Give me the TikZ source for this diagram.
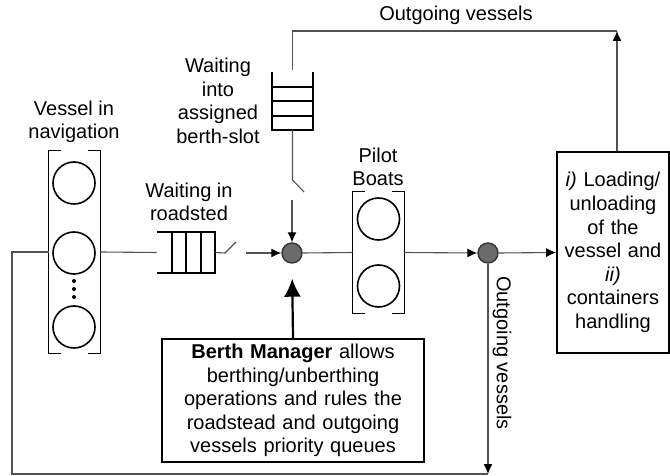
\documentclass[tikz,border=0pt]{standalone}
\usepackage{fontspec}
\setmainfont{Liberation Sans}
\usetikzlibrary{arrows.meta,calc}
\begin{document}
\begin{tikzpicture}[x=0.5pt,y=-0.5pt,
  every node/.style={font=\fontsize{10pt}{11.8pt}\selectfont, inner sep=0pt, align=center},
  conn/.style={draw=black!68, line width=0.55pt},
  arr/.style={conn, -{Latex[length=5pt,width=4.5pt,color=black]}},
  bigarr/.style={draw=black, line width=1.1pt, -{Latex[length=9pt,width=8.5pt]}},
  qline/.style={draw=black, line width=1pt},
  boat/.style={circle, draw=black, line width=0.8pt, minimum size=21pt},
  junction/.style={circle, draw=black!80, fill=black!58, line width=0.7pt, minimum size=10pt},
  frame/.style={draw=black, line width=0.8pt},
  holder/.style={rectangle, minimum width=25.5pt}
]
\useasboundingbox (0,0) rectangle (670,476);

% ---------- vessel in navigation ----------
\node (vlab) at (74,122) {Vessel in\\navigation};
\node[holder, minimum height=101pt] (vbox) at (74.5,252) {};
\draw[frame] ($(vbox.north west)+(12,0)$) -- (vbox.north west) -- (vbox.south west) -- ($(vbox.south west)+(12,0)$);
\draw[frame] ($(vbox.north east)+(-12,0)$) -- (vbox.north east) -- (vbox.south east) -- ($(vbox.south east)+(-12,0)$);
\node[boat] (v1) at (74,183) {};
\node[boat] (v2) at (74,253) {};
\node[boat] (v3) at (74,327) {};
\foreach \yy in {281,289,297} \fill (74,\yy) circle (1pt);

% ---------- roadsted queue ----------
\node (rlab) at (189,202) {Waiting in\\roadsted};
\node[rectangle, minimum width=29pt, minimum height=20.5pt] (rq) at (186,252.5) {};
\draw[qline] (rq.north west) -- (rq.north east) -- (rq.south east) -- (rq.south west);
\foreach \xx in {171.5,186,200.5} \draw[qline] (\xx,232) -- (\xx,273);

% ---------- berth-slot queue ----------
\node (blab) at (218,101) {Waiting\\into\\assigned\\berth-slot};
\node[rectangle, minimum width=20.5pt, minimum height=29pt] (bq) at (292.5,101) {};
\draw[qline] (bq.north west) -- (bq.south west) -- (bq.south east) -- (bq.north east);
\foreach \yy in {87,101.5,116} \draw[qline] (272,\yy) -- (313,\yy);

% ---------- junctions ----------
\node[junction] (c1) at (292,253) {};
\node[junction] (c2) at (488,253) {};

% ---------- pilot boats ----------
\node (plab) at (378,167) {Pilot\\Boats};
\node[holder, minimum height=60.5pt] (pbox) at (378.5,252.5) {};
\draw[frame] ($(pbox.north west)+(12,0)$) -- (pbox.north west) -- (pbox.south west) -- ($(pbox.south west)+(12,0)$);
\draw[frame] ($(pbox.north east)+(-12,0)$) -- (pbox.north east) -- (pbox.south east) -- ($(pbox.south east)+(-12,0)$);
\node[boat] (p1) at (378.5,219) {};
\node[boat] (p2) at (378.5,286) {};

% ---------- loading box ----------
\node[frame, rectangle, minimum width=56pt, minimum height=100.5pt, text width=54pt] (lb) at (613,252.5)
  {\textit{i)} Loading/\\unloading\\of the\\vessel and\\\textit{ii)}\\containers\\handling};

% ---------- berth manager ----------
\node[frame, rectangle, minimum width=131pt, minimum height=61.5pt, text width=128pt] (bm) at (293,400.5)
  {\textbf{Berth Manager} allows\\berthing/unberthing\\operations and rules the\\roadstead and outgoing\\vessels priority queues};

% ---------- coordinates ----------
\coordinate (rs1) at (225,253);
\coordinate (rs2) at (236,242);
\coordinate (rs3) at (246,253);
\coordinate (bs1) at (292.5,180);
\coordinate (bs2) at (304,192);
\coordinate (bs3) at (292,200);
\coordinate (tr) at (617,31);
\coordinate (bl) at (12,474);
\coordinate (br) at (488,474);

% ---------- connectors ----------
\draw[conn] (vbox.east) -- (rq.west);
\draw[conn] (rq.east) -- (rs1) -- (rs2);
\draw[arr] (rs3) -- (c1.west);
\draw[conn] (bq.south) -- (bs1) -- (bs2);
\draw[arr] (bs3) -- (c1.north);
\draw[conn] (c1.east) -- (pbox.west);
\draw[arr] (pbox.east) -- (c2.west);
\draw[arr] (c2.east) -- (lb.west);
\draw[arr] (c2.south) -- (br);
\draw[conn] (vbox.west) -| (bl) -- (br);
\draw[conn] ($(bq.north)+(0,-2)$) |- (tr);
\draw[arr] (lb.north -| tr) -- (tr);
\draw[bigarr, shorten >=7.5pt] (bm.north) -- (c1.south);

% ---------- labels ----------
\node (otop) at (456,15) {Outgoing vessels};
\node[rotate=-90] (oside) at (502,353) {Outgoing vessels};
\end{tikzpicture}
\end{document}
